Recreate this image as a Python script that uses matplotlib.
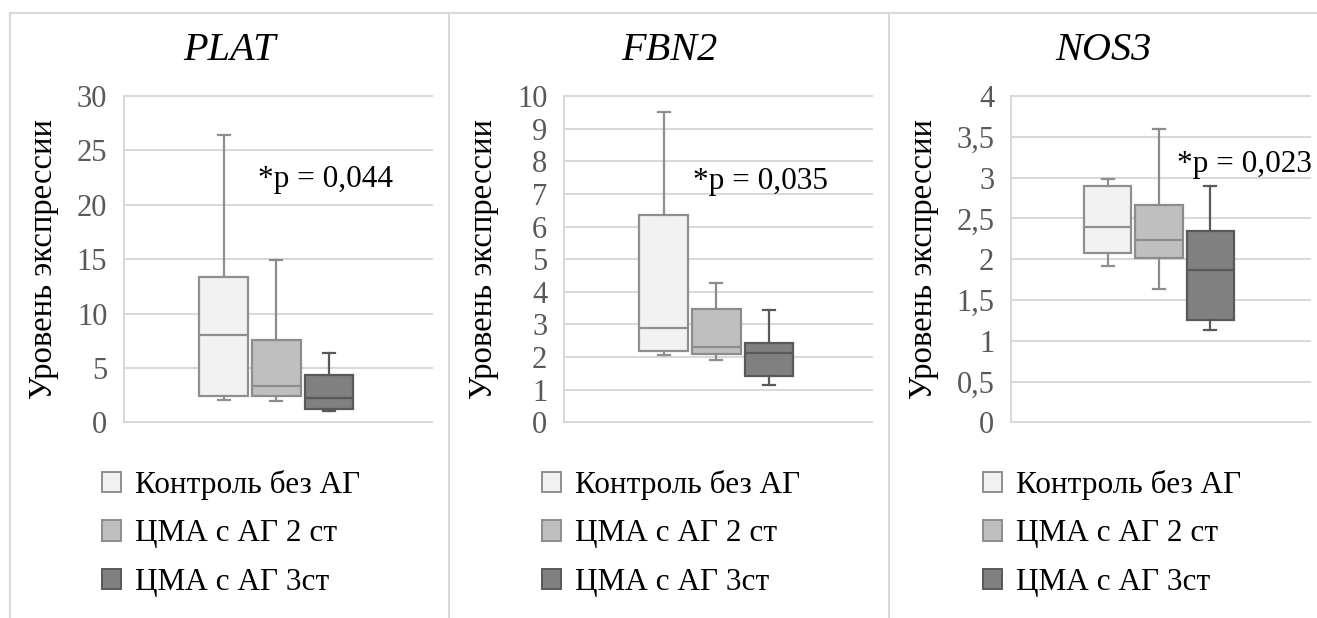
import matplotlib
matplotlib.use('Agg')
import matplotlib.pyplot as plt
from matplotlib.lines import Line2D
from matplotlib.patches import Patch

plt.rcParams['font.family'] = ['Liberation Serif', 'DejaVu Serif']

genes = ['PLAT', 'FBN2', 'NOS3']
groups = ['Контроль без АГ', 'ЦМА с АГ 2 ст', 'ЦМА с АГ 3ст']
pvalues = ['*p = 0,044', '*p = 0,035', '*p = 0,023']

# box statistics per gene: one value per group
plat_whishi = [26.4, 14.96, 6.4]
plat_q3 = [13.37, 7.6, 4.35]
plat_med = [8.03, 3.37, 2.2]
plat_q1 = [2.42, 2.42, 1.25]
plat_whislo = [2.05, 1.96, 1.07]

fbn2_whishi = [9.52, 4.28, 3.45]
fbn2_q3 = [6.34, 3.46, 2.43]
fbn2_med = [2.9, 2.32, 2.12]
fbn2_q1 = [2.18, 2.09, 1.42]
fbn2_whislo = [2.06, 1.91, 1.13]

nos3_whishi = [2.98, 3.60, 2.90]
nos3_q3 = [2.90, 2.66, 2.34]
nos3_med = [2.40, 2.23, 1.87]
nos3_q1 = [2.08, 2.01, 1.25]
nos3_whislo = [1.91, 1.63, 1.13]

ymax = [30, 10, 4]
ystep = [5, 1, 0.5]
ptext_pos = [(1.66, 22.3), (1.55, 7.37), (2.35, 3.16)]

stats_all = [
    (plat_whislo, plat_q1, plat_med, plat_q3, plat_whishi),
    (fbn2_whislo, fbn2_q1, fbn2_med, fbn2_q3, fbn2_whishi),
    (nos3_whislo, nos3_q1, nos3_med, nos3_q3, nos3_whishi),
]

fills = ['#f2f2f2', '#bfbfbf', '#808080']
edges = ['#8f8f8f', '#8c8c8c', '#595959']
grid_c = '#d9d9d9'

W, H = 1317, 618
fig = plt.figure(figsize=(W / 100, H / 100), dpi=100)

# axes boxes in pixels: left, right
ax_px = [(124, 432), (564, 872), (1011, 1310)]
ax_top, ax_bot = 96, 422.3
panel_px = [(10, 449), (449, 889), (889, 1317)]
legend_x = [102, 542, 983]
ylabel_x = [59, 499, 939]


def fmt(v):
    s = ('%g' % v)
    return s.replace('.', ',')


for k, gene in enumerate(genes):
    l, r = ax_px[k]
    ax = fig.add_axes([l / W, 1 - ax_bot / H, (r - l) / W, (ax_bot - ax_top) / H])
    lo, q1, med, q3, hi = stats_all[k]
    bstats = []
    for i in range(3):
        bstats.append({'whislo': lo[i], 'q1': q1[i], 'med': med[i],
                       'q3': q3[i], 'whishi': hi[i], 'fliers': []})
    for i in range(3):
        ax.bxp([bstats[i]], positions=[i + 1], widths=0.92, patch_artist=True,
               showfliers=False,
               boxprops=dict(facecolor=fills[i], edgecolor=edges[i], linewidth=1.6),
               medianprops=dict(color=edges[i], linewidth=1.6),
               whiskerprops=dict(color=edges[i], linewidth=1.6),
               capprops=dict(color=edges[i], linewidth=1.6),
               capwidths=0.23, zorder=3)
    ax.set_xlim(-0.89, 4.95)
    ax.set_ylim(0, ymax[k])
    ticks = [ystep[k] * j for j in range(int(round(ymax[k] / ystep[k])) + 1)]
    ax.set_yticks(ticks)
    ax.set_yticklabels([fmt(t) for t in ticks])
    ax.set_xticks([])
    ax.tick_params(axis='y', length=0, pad=12, labelsize=22, labelcolor='#595959')
    ax.yaxis.grid(True, color=grid_c, linewidth=1.5, clip_on=False)
    ax.set_axisbelow(True)
    for s in ['top', 'right', 'bottom']:
        ax.spines[s].set_visible(False)
    ax.spines['left'].set_color(grid_c)
    ax.spines['left'].set_linewidth(1.5)
    ax.set_ylabel('Уровень экспрессии', fontsize=23.5)
    ax.yaxis.set_label_coords((ylabel_x[k] - l) / (r - l), 0.5)
    px, py = ptext_pos[k]
    ax.text(px, py, pvalues[k], fontsize=22.5, va='center', ha='left', zorder=5)

    pl, pr = panel_px[k]
    fig.text((pl + pr) / 2 / W, 1 - 50 / H, gene, fontsize=29, style='italic',
             ha='center', va='center')

    handles = [Patch(facecolor=fills[i], edgecolor=edges[i], linewidth=1.4)
               for i in range(3)]
    fig.legend(handles, groups, loc='upper left',
               bbox_to_anchor=(legend_x[k] / W, 1 - 470 / H),
               bbox_transform=fig.transFigure, frameon=False, fontsize=22.5,
               handlelength=0.62, handleheight=0.62, handletextpad=0.45,
               labelspacing=0.62, borderpad=0, borderaxespad=0)

# panel frame lines
fig.add_artist(Line2D([10 / W, 1], [1 - 13 / H, 1 - 13 / H], color=grid_c,
                      linewidth=1.5, transform=fig.transFigure))
for xs in [10, 449, 889]:
    fig.add_artist(Line2D([xs / W, xs / W], [0, 1 - 13 / H], color=grid_c,
                          linewidth=1.5, transform=fig.transFigure))

fig.savefig('out.png', dpi=100)
